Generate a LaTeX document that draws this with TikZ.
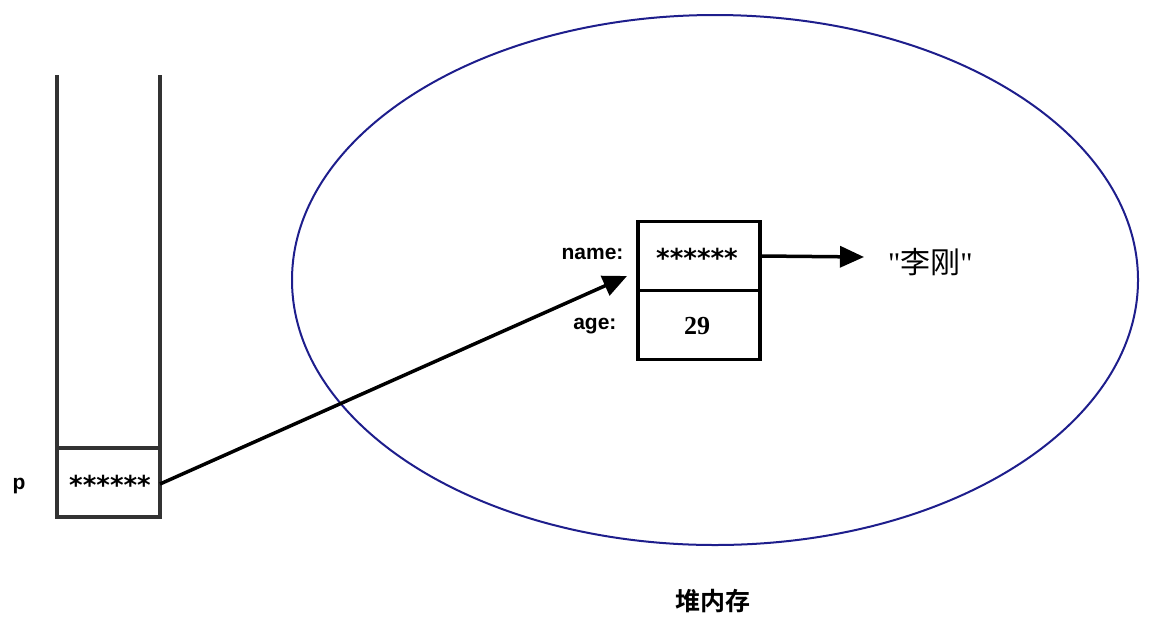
\documentclass[tikz,border=0pt]{standalone}
\usepackage{fontspec}
\setmainfont{Liberation Sans}
\newfontfamily\cjk{Noto Sans CJK SC}
\newfontfamily\cjkb{Noto Sans CJK SC Bold}
\newfontfamily\serif{Liberation Serif}
\newfontfamily\starfont{DejaVu Sans Bold}
\usetikzlibrary{arrows.meta}
\definecolor{heapblue}{RGB}{30,30,140}
\definecolor{stackgray}{RGB}{50,50,50}
\newcommand{\starrow}{\raisebox{-0.32em}{\starfont\fontsize{26}{28}\selectfont ******}}
\begin{document}
\begin{tikzpicture}[x=1pt,y=-1pt,
  stackline/.style={draw=stackgray,line width=3.2pt},
  cellbox/.style={draw=black,line width=3.5pt},
  lbl/.style={font=\bfseries\fontsize{21}{24}\selectfont},
  ptr/.style={line width=3.5pt,-{Triangle[length=24pt,width=21pt]}}]
\useasboundingbox (0,0) rectangle (1150,625);
% stack
\draw[stackline] (57,75) -- (57,517) -- (160,517) -- (160,75);
\draw[stackline] (57,448) -- (160,448);
\coordinate (scell) at (160,484);
\node[inner sep=0pt] (ps) at (110,485) {\starrow};
\node[lbl,anchor=west] (p) at (9,486) {p};
% heap
\draw[heapblue,line width=2pt] (715,280) ellipse [x radius=423, y radius=265];
\node[font=\cjkb\fontsize{25}{28}\selectfont] (heap) at (713,601) {堆内存};
% object
\node[cellbox,minimum width=122pt,minimum height=69pt,inner sep=0pt] (nm) at (699,256) {};
\node[cellbox,minimum width=122pt,minimum height=69pt,inner sep=0pt] (ag) at (699,325) {};
\node[inner sep=0pt] at (697,258) {\starrow};
\node[font=\serif\bfseries\fontsize{26}{28}\selectfont] at (697,326) {29};
\node[lbl,anchor=east] at (627,254) {name:};
\node[lbl,anchor=east] at (620,326) {age:};
\node[font=\serif\fontsize{30}{34}\selectfont,anchor=west,inner sep=0pt] (str) at (888,262) {\textquotedbl{\cjk 李刚}\textquotedbl};
% arrows
\coordinate (tip1) at (627,276);
\draw[ptr] (scell) -- (tip1);
\draw[ptr] (nm.east) -- (864,257);
\end{tikzpicture}
\end{document}
